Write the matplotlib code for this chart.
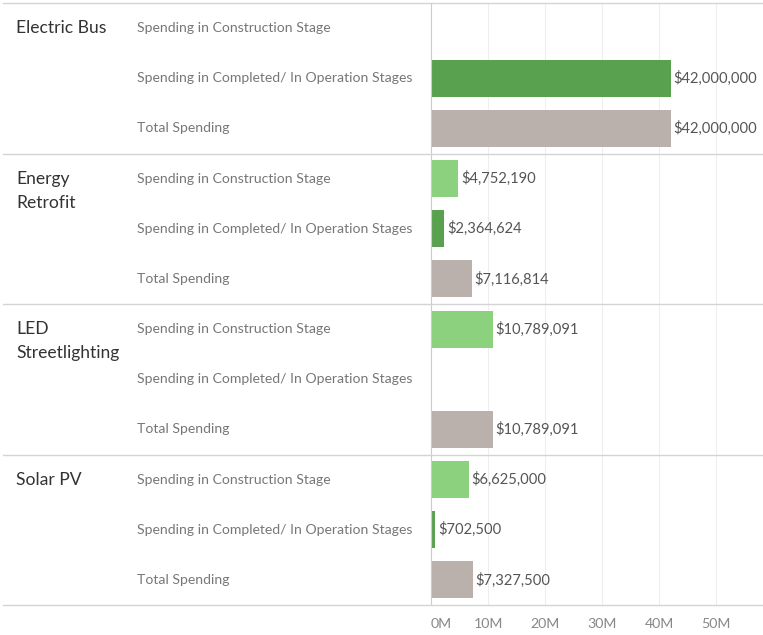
import matplotlib
matplotlib.use("Agg")
import matplotlib.pyplot as plt
import matplotlib.transforms as mtransforms
from matplotlib.lines import Line2D
import numpy as np

plt.rcParams['font.family'] = ['Lato', 'DejaVu Sans']

categories = ["Electric Bus", "Energy\nRetrofit", "LED\nStreetlighting", "Solar PV"]
measures = ["Spending in Construction Stage",
            "Spending in Completed/ In Operation Stages",
            "Total Spending"]
construction = [None, 4752190, 10789091, 6625000]
completed = [42000000, 2364624, None, 702500]
total = [42000000, 7116814, 10789091, 7327500]
tick_values = [0, 10e6, 20e6, 30e6, 40e6, 50e6]
tick_labels = ["0M", "10M", "20M", "30M", "40M", "50M"]

colors = ["#8CD17D", "#59A14F", "#BAB0AC"]

W, H = 763, 635
fig = plt.figure(figsize=(W / 100, H / 100), dpi=100)
ax = fig.add_axes([431 / W, 1 - 605 / H, (762 - 431) / W, (605 - 3) / H])
row_px = (605 - 3) / 12.0

series = [construction, completed, total]
n = len(categories)
ypos = 0
for gi in range(n):
    for mi in range(3):
        v = series[mi][gi]
        if v is not None:
            ax.barh(ypos, v, height=0.74, color=colors[mi], edgecolor='none', zorder=2)
            ax.text(v + 0.5e6, ypos, "${:,.0f}".format(v), va='center', ha='left',
                    fontsize=10.6, color='#555555', zorder=3)
        ypos += 1

ax.set_xlim(0, 58e6)
ax.set_ylim(3 * n - 0.5, -0.5)
ax.set_yticks([])
ax.set_xticks(tick_values)
ax.set_xticklabels(tick_labels, fontsize=10.2, color='#888888')
ax.get_xticklabels()[0].set_horizontalalignment('left')
ax.tick_params(axis='x', length=0, pad=9)
for s in ['top', 'right', 'bottom']:
    ax.spines[s].set_visible(False)
ax.spines['left'].set_color('#cccccc')
ax.spines['left'].set_linewidth(0.8)
ax.grid(axis='x', color='#eeeeee', linewidth=0.8, zorder=0)
ax.set_axisbelow(True)

trans = mtransforms.blended_transform_factory(fig.transFigure, ax.transData)
# separators
for gi in range(n + 1):
    yb = gi * 3 - 0.5
    fig.add_artist(Line2D([3 / W, 762 / W], [yb, yb], transform=trans,
                          color='#d4d4d4', linewidth=1.0))

for gi, cat in enumerate(categories):
    y0 = gi * 3
    for li, line in enumerate(cat.split("\n")):
        fig.text(16 / W, y0 + li * 24 / row_px, line, transform=trans, ha='left',
                 va='center', fontsize=12.6, color='#333333')
    for mi, m in enumerate(measures):
        fig.text(137 / W, y0 + mi, m, transform=trans, ha='left', va='center',
                 fontsize=10.1, color='#777777')

fig.savefig("out.png", dpi=100)
